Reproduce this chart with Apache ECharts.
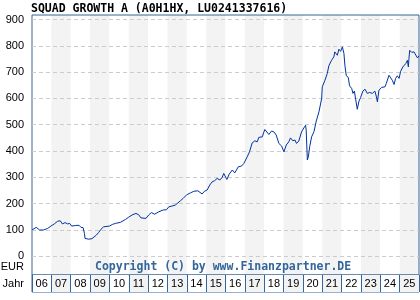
<!DOCTYPE html>
<html>
<head>
<meta charset="utf-8">
<script src="https://cdn.jsdelivr.net/npm/echarts@6/dist/echarts.min.js"></script>
<style>
  html, body { margin: 0; padding: 0; background: #fff; }
  #chart { width: 420px; height: 300px; }
</style>
</head>
<body>
<div id="chart"></div>
<script>
// chart data
var title = 'SQUAD GROWTH A (A0H1HX, LU0241337616)';
var yearLabels = ['06', '07', '08', '09', '10', '11', '12', '13', '14', '15',
  '16', '17', '18', '19', '20', '21', '22', '23', '24', '25'];
var yTicks = [0, 100, 200, 300, 400, 500, 600, 700, 800, 900];

// time in decimal years
var times = [
  2006.00, 2006.22, 2006.39, 2006.60, 2006.81, 2006.98, 2007.15, 2007.32, 2007.46, 2007.57,
  2007.71, 2007.84, 2007.95, 2008.05, 2008.26, 2008.43, 2008.53, 2008.64, 2008.71, 2008.74,
  2008.93, 2009.10, 2009.19, 2009.33, 2009.45, 2009.57, 2009.70, 2010.01, 2010.15, 2010.31,
  2010.57, 2010.83, 2011.00, 2011.17, 2011.37, 2011.51, 2011.63, 2011.89, 2012.03, 2012.17,
  2012.34, 2012.55, 2012.78, 2012.95, 2013.07, 2013.24, 2013.41, 2013.50, 2013.67, 2013.81,
  2014.00, 2014.19, 2014.36, 2014.57, 2014.67, 2014.79, 2014.91, 2015.05, 2015.19, 2015.31,
  2015.43, 2015.57, 2015.71, 2015.83, 2015.91, 2016.07, 2016.19, 2016.35, 2016.48, 2016.66,
  2016.83, 2016.95, 2017.12, 2017.24, 2017.38, 2017.52, 2017.64, 2017.72, 2017.90, 2018.03,
  2018.10, 2018.24, 2018.38, 2018.50, 2018.62, 2018.76, 2018.90, 2019.02, 2019.14, 2019.27,
  2019.36, 2019.48, 2019.59, 2019.67, 2019.79, 2019.93, 2020.05, 2020.14, 2020.17, 2020.23,
  2020.28, 2020.35, 2020.45, 2020.57, 2020.69, 2020.83, 2020.97, 2021.00, 2021.14, 2021.26,
  2021.34, 2021.48, 2021.60, 2021.65, 2021.78, 2021.86, 2021.95, 2022.04, 2022.12, 2022.17,
  2022.24, 2022.35, 2022.41, 2022.52, 2022.59, 2022.66, 2022.73, 2022.81, 2022.90, 2022.98,
  2023.10, 2023.21, 2023.33, 2023.45, 2023.59, 2023.72, 2023.80, 2023.85, 2023.93, 2024.07,
  2024.24, 2024.31, 2024.45, 2024.54, 2024.62, 2024.71, 2024.79, 2024.88, 2024.97, 2025.05,
  2025.17, 2025.32, 2025.40, 2025.45, 2025.48, 2025.52, 2025.62, 2025.74, 2025.83, 2025.92,
  2026.00
];

var prices = [
  100, 110, 100, 100, 106, 115, 123, 133, 135, 123,
  128, 123, 125, 115, 117, 118, 110, 109, 87, 68,
  65, 67, 65, 81, 91, 103, 112, 115, 121, 125,
  129, 140, 149, 157, 163, 158, 146, 144, 157, 166,
  160, 169, 176, 177, 188, 191, 195, 199, 211, 220,
  234, 241, 247, 249, 242, 237, 247, 252, 271, 283,
  287, 296, 290, 300, 315, 292, 312, 328, 317, 340,
  343, 353, 378, 397, 431, 439, 435, 452, 454, 482,
  486, 463, 476, 473, 461, 429, 419, 397, 423, 435,
  450, 439, 442, 429, 438, 473, 488, 498, 479, 366,
  378, 416, 454, 473, 514, 549, 600, 644, 669, 695,
  724, 745, 758, 777, 764, 787, 779, 796, 771, 726,
  688, 678, 648, 638, 619, 628, 595, 559, 590, 603,
  628, 635, 619, 623, 619, 628, 606, 587, 631, 642,
  644, 657, 688, 678, 669, 653, 676, 686, 676, 703,
  720, 733, 745, 720, 752, 783, 775, 777, 775, 754,
  762
];

var frameColor = '#33669a';
var bandColors = ['#ffffff', '#f3f3f3'];

var chart = echarts.init(document.getElementById('chart'));

var seriesData = times.map(function(t, i) {
  return [t, prices[i]];
});

chart.setOption({
  animation: false,
  title: {
    text: title,
    left: 31,
    top: 3,
    padding: 0,
    textStyle: {
      fontFamily: 'DejaVu Sans Mono',
      fontWeight: 'bold',
      fontSize: 11.5,
      color: '#000'
    }
  },
  grid: [
    // data area (0..900)
    { left: 32, right: 1, top: 19.5, bottom: 43.7 },
    // frame with year bands
    { left: 32, right: 1, top: 15, bottom: 25, show: true,
      borderColor: frameColor, borderWidth: 1, backgroundColor: 'transparent' },
    // year label strip
    { left: 32, right: 1, top: 275, bottom: 8, show: true,
      borderColor: frameColor, borderWidth: 1, backgroundColor: 'transparent' }
  ],
  xAxis: [
    { gridIndex: 0, type: 'value', min: 2006, max: 2026, show: false },
    { gridIndex: 1, type: 'category', data: yearLabels, z: -1,
      axisLine: { show: false }, axisTick: { show: false }, axisLabel: { show: false },
      splitLine: { show: false },
      splitArea: { show: true, interval: 0, areaStyle: { color: bandColors } } },
    { gridIndex: 2, type: 'category', data: yearLabels, position: 'top',
      axisLine: { show: false }, axisTick: { show: false },
      axisLabel: { inside: true, interval: 0, margin: 3, color: '#000',
        fontFamily: 'Liberation Sans', fontSize: 11 },
      splitLine: { show: true, interval: 0, lineStyle: { color: frameColor, width: 1 } },
      splitArea: { show: true, interval: 0, areaStyle: { color: bandColors } } }
  ],
  yAxis: [
    { gridIndex: 0, type: 'value', min: yTicks[0], max: yTicks[yTicks.length - 1], interval: 100,
      axisLine: { show: false }, axisTick: { show: false },
      axisLabel: { margin: 8, color: '#000', fontFamily: 'Liberation Sans', fontSize: 11 },
      splitLine: { show: true, lineStyle: { color: '#cccccc', type: [4, 3], width: 1 } } },
    { gridIndex: 1, type: 'value', show: false },
    { gridIndex: 2, type: 'value', show: false }
  ],
  graphic: [
    { type: 'text', left: 95, top: 261,
      style: { text: 'Copyright (C) by www.Finanzpartner.DE', fill: frameColor,
        font: 'bold 11.5px "DejaVu Sans Mono"' } },
    { type: 'text', right: 396, top: 261,
      style: { text: 'EUR', fill: '#000', font: '11px "Liberation Sans"' } },
    { type: 'text', right: 396, top: 278,
      style: { text: 'Jahr', fill: '#000', font: '11px "Liberation Sans"' } }
  ],
  series: [{
    type: 'line',
    xAxisIndex: 0,
    yAxisIndex: 0,
    data: seriesData,
    showSymbol: false,
    lineStyle: { color: '#0033a0', width: 1 },
    z: 5
  }]
});

window.addEventListener('resize', chart.resize);
</script>
</body>
</html>
